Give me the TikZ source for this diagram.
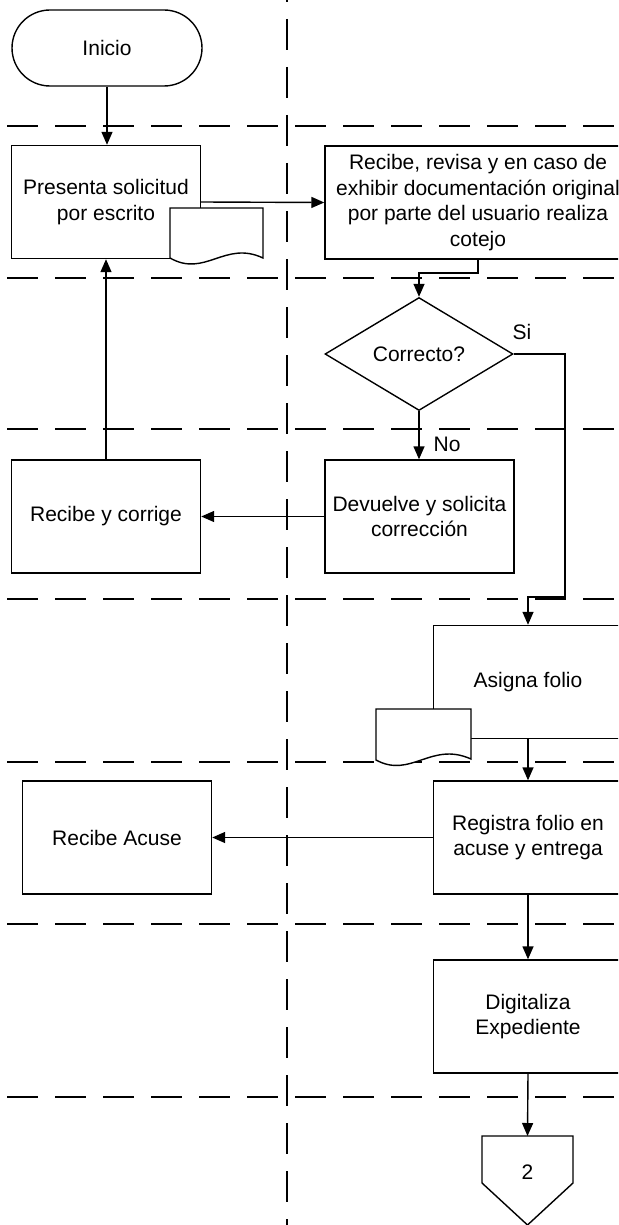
\documentclass[tikz,border=0pt]{standalone}
\usepackage{fontspec}
\setmainfont{Liberation Sans}
\usetikzlibrary{arrows.meta,shapes.geometric,shapes.misc}
\begin{document}
\begin{tikzpicture}[x=1pt,y=-1pt,line width=1.4pt,
  every node/.style={font=\fontsize{21}{25.5}\selectfont, align=center},
  proc/.style={draw, fill=white, minimum width=189pt, minimum height=113pt, inner sep=0pt},
  arr/.style={-{Triangle[length=13pt,width=11pt]}},
  lane/.style={dash pattern=on 31pt off 17pt, line width=1.4pt},
  docshape/.style={draw, fill=white}]
\useasboundingbox (0,0) rectangle (618,1225);
\clip (0,0) rectangle (618,1225);

% swimlane separators
\foreach \yy in {126,278,429,599,762,924,1097}
  \draw[lane] (7,\yy) -- (625,\yy);
\draw[lane] (287,-29) -- (287,1235);

% nodes
\node[draw, rounded rectangle, minimum width=190pt, minimum height=76pt, inner sep=0pt] (inicio) at (107,48) {Inicio};
\node[proc] (presenta) at (106,202) {Presenta solicitud\\por escrito};
\path[docshape] (170,208) -- (263,208) -- (263,258) .. controls (225,240) and (205,278) .. (170,258) -- cycle;
\node[proc, minimum width=306pt] (recibe) at (478,202.5) {Recibe, revisa y en caso de\\exhibir documentación original\\por parte del usuario realiza\\cotejo};
\node[draw, diamond, aspect=1.66, minimum width=188pt, minimum height=113pt, inner sep=0pt] (dec) at (419,354) {Correcto?};
\node[proc] (devuelve) at (419.5,516.5) {Devuelve y solicita\\corrección};
\node[proc] (corrige) at (106,516.5) {Recibe y corrige};
\node[proc] (asigna) at (528,682) {Asigna folio};
\path[docshape] (376,709) -- (471,709) -- (471,759) .. controls (431,741) and (411,779) .. (376,760) -- cycle;
\node[proc] (registra) at (528,837.5) {Registra folio en\\acuse y entrega};
\node[proc] (acuse) at (117,837.5) {Recibe Acuse};
\node[proc] (digit) at (528,1016.5) {Digitaliza\\Expediente};
\path[draw, fill=white] (482,1136) -- (573,1136) -- (573,1183) -- (527.5,1225) -- (482,1183) -- cycle;
\node (conn) at (527.5,1172) {2};
\coordinate (conntop) at (527.5,1136);
\coordinate (rbend) at (419,273);
\coordinate (sibend) at (565,597);

% labels
\node (si) at (522,332) {Si};
\node[anchor=west, inner sep=0pt] (no) at (433,444) {No};

% connectors
\draw[arr] (inicio.south) -- (inicio.south |- presenta.north);
\draw[arr] (presenta.east) -- (recibe.west);
\draw[arr] (recibe.south) |- (rbend) -- (dec.north);
\draw[arr] (dec.south) -- (dec.south |- devuelve.north);
\draw[arr] (dec.east) -| (sibend) -| (asigna.north);
\draw[arr] (devuelve.west) -- (corrige.east);
\draw[arr] (corrige.north) -- (presenta.south);
\draw[arr] (asigna.south) -- (registra.north);
\draw[arr] (registra.west) -- (acuse.east);
\draw[arr] (registra.south) -- (digit.north);
\draw[arr] (digit.south) -- (conntop);
\end{tikzpicture}
\end{document}
